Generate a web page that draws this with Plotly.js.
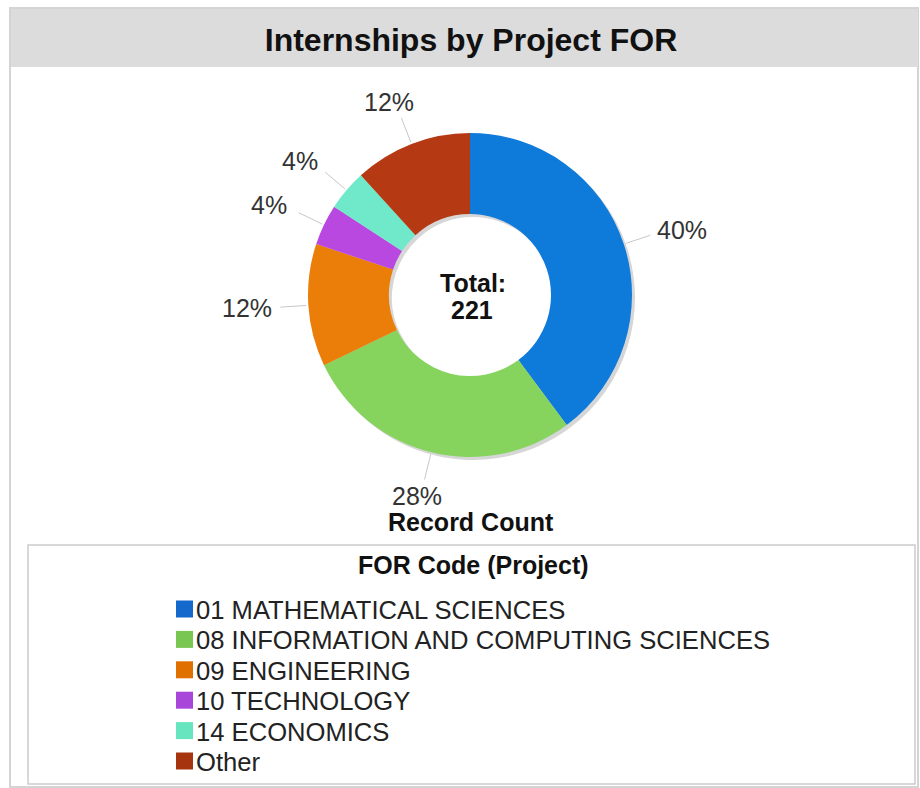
<!DOCTYPE html>
<html>
<head>
<meta charset="utf-8">
<script src="https://cdn.plot.ly/plotly-3.0.1.min.js"></script>
<style>html,body{margin:0;padding:0;background:#fff;}#chart{width:920px;height:788px;}</style>
</head>
<body>
<div id="chart"></div>
<script>
// ---- data ----
const categories = [
  "01 MATHEMATICAL SCIENCES",
  "08 INFORMATION AND COMPUTING SCIENCES",
  "09 ENGINEERING",
  "10 TECHNOLOGY",
  "14 ECONOMICS",
  "Other"
];
const recordCounts = [88, 62, 27, 9, 9, 26];
const sliceColors = ["#0e7ad9", "#86d45e", "#ea7e08", "#b948e0", "#6fe9c9", "#b53a14"];
const swatchColors = ["#1568cc", "#7ac653", "#e07000", "#a946da", "#66e5bf", "#a6340f"];
const chartTitle = "Internships by Project FOR";
const legendTitle = "FOR Code (Project)";
const measureLabel = "Record Count";
const totalLabel = "Total:";

// ---- layout geometry (pixels) ----
const W = 920, H = 788;
const cx = 470, cy = 295, R = 162;
const px = x => x / W;
const py = y => 1 - y / H;

const total = recordCounts.reduce((a, b) => a + b, 0);
const FONT = "Liberation Sans, Arial, Helvetica, sans-serif";

const pieDomain = { x: [px(cx - R), px(cx + R)], y: [py(cy + R), py(cy - R)] };
const shadowDomain = { x: [px(cx - R + 3), px(cx + R + 3)], y: [py(cy + R + 3), py(cy - R + 3)] };

const shadow = {
  type: "pie", values: recordCounts, labels: categories.map(c => "s_" + c),
  domain: shadowDomain, hole: 0.5, sort: false, direction: "clockwise", rotation: 0,
  marker: { colors: categories.map(() => "#d6d6d6"), line: { width: 0 } },
  textinfo: "none", hoverinfo: "skip", showlegend: false
};
const donut = {
  type: "pie", values: recordCounts, labels: categories,
  domain: pieDomain, hole: 0.5, sort: false, direction: "clockwise", rotation: 0,
  marker: { colors: sliceColors, line: { width: 0 } },
  textinfo: "none", hoverinfo: "label+value+percent", showlegend: false
};

// percent labels with leader lines, computed from data
const annotations = [];
const shapes = [];
let cum = 0;
recordCounts.forEach((v, i) => {
  const mid = (cum + v / 2) / total * 2 * Math.PI;
  cum += v;
  const dx = Math.sin(mid), dy = -Math.cos(mid);
  const ex = cx + dx * (R + 28), ey = cy + dy * (R + 28);
  shapes.push({
    type: "line", xref: "paper", yref: "paper",
    x0: px(cx + dx * (R + 2)), y0: py(cy + dy * (R + 2)),
    x1: px(ex), y1: py(ey),
    line: { color: "#c8c8c8", width: 1 }
  });
  annotations.push({
    xref: "paper", yref: "paper", showarrow: false,
    x: px(ex + dx * 33), y: py(ey + dy * 17),
    xanchor: "center", yanchor: "middle",
    text: Math.round(v / total * 100) + "%",
    font: { family: FONT, size: 25, color: "#333" }
  });
});

// centre total
annotations.push({
  xref: "paper", yref: "paper", showarrow: false,
  x: px(473), y: py(283), xanchor: "center", yanchor: "middle",
  text: "<b>" + totalLabel + "</b>",
  font: { family: FONT, size: 25, color: "#111" }
});
annotations.push({
  xref: "paper", yref: "paper", showarrow: false,
  x: px(472), y: py(310), xanchor: "center", yanchor: "middle",
  text: "<b>" + total + "</b>",
  font: { family: FONT, size: 25, color: "#111" }
});
annotations.push({
  xref: "paper", yref: "paper", showarrow: false,
  x: px(471), y: py(522), xanchor: "center", yanchor: "middle",
  text: "<b>" + measureLabel + "</b>",
  font: { family: FONT, size: 25, color: "#111" }
});

// frame, title bar, legend box
shapes.unshift(
  { type: "rect", xref: "paper", yref: "paper", layer: "below",
    x0: px(10), y0: py(787), x1: px(918), y1: py(8),
    line: { color: "#d4d4d4", width: 2 }, fillcolor: "rgba(0,0,0,0)" },
  { type: "rect", xref: "paper", yref: "paper", layer: "below",
    x0: px(11), y0: py(67), x1: px(918), y1: py(9),
    line: { width: 0 }, fillcolor: "#dcdcdc" },
  { type: "rect", xref: "paper", yref: "paper", layer: "below",
    x0: px(28), y0: py(784), x1: px(915), y1: py(545),
    line: { color: "#cccccc", width: 1.5 }, fillcolor: "rgba(0,0,0,0)" }
);

// legend (title, swatches and labels)
annotations.push({
  xref: "paper", yref: "paper", showarrow: false,
  x: px(473), y: py(565), xanchor: "center", yanchor: "middle",
  text: "<b>" + legendTitle + "</b>",
  font: { family: FONT, size: 25, color: "#111" }
});
categories.forEach((c, i) => {
  const yc = 609 + i * 30.4;
  shapes.push({
    type: "rect", xref: "paper", yref: "paper",
    x0: px(176), x1: px(193), y0: py(yc + 8.5), y1: py(yc - 8.5),
    line: { width: 0 }, fillcolor: swatchColors[i]
  });
  annotations.push({
    xref: "paper", yref: "paper", showarrow: false,
    x: px(194), y: py(yc + 1), xanchor: "left", yanchor: "middle",
    text: c, font: { family: FONT, size: 25.6, color: "#222" }
  });
});

const layout = {
  width: W, height: H,
  margin: { l: 0, r: 0, t: 0, b: 0 },
  paper_bgcolor: "#ffffff",
  title: {
    text: "<b>" + chartTitle + "</b>",
    x: px(471), xanchor: "center", y: py(40), yanchor: "middle",
    font: { family: FONT, size: 32, color: "#111" }
  },
  showlegend: false,
  shapes: shapes,
  annotations: annotations
};

Plotly.newPlot("chart", [shadow, donut], layout, { displayModeBar: false });
</script>
</body>
</html>
